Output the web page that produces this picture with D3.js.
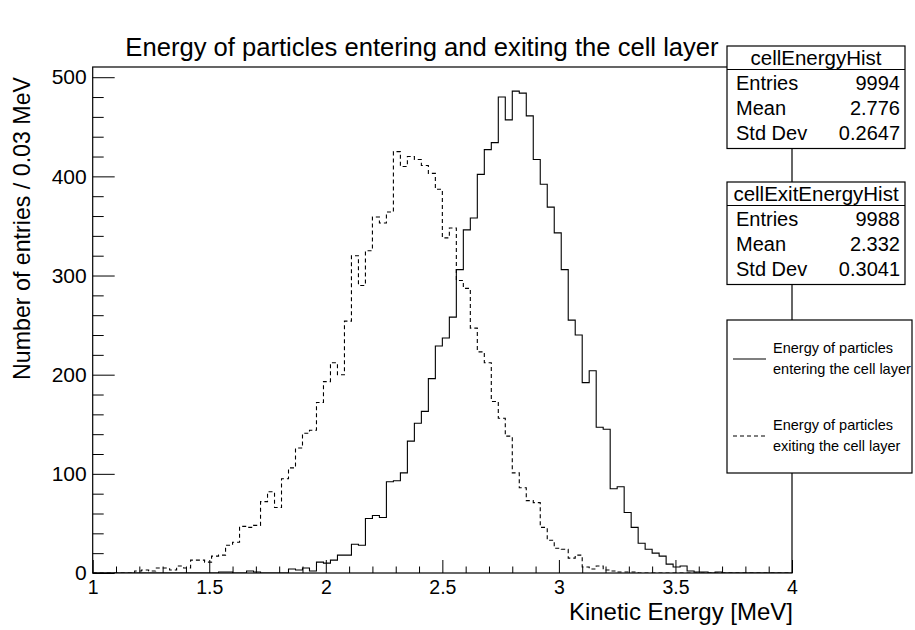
<!DOCTYPE html>
<html><head><meta charset="utf-8">
<script src="https://cdn.jsdelivr.net/npm/d3@7"></script>
<style>
body{margin:0;background:#fff}
svg{display:block}
text{font-family:"Liberation Sans",Arial,Helvetica,sans-serif;fill:#000}
</style>
</head><body>
<svg id="c" width="915" height="630"></svg>
<script>
// ---- data ----
const xMin = 1, xMax = 4, binWidth = 0.03;
const yMax = 510.3;
const enteringCounts = [
  0,0,0,0,0,0,0,0,0,0,
  0,0,0,0,0,0,0,0,1,1,
  0,0,2,1,0,0,0,0,4,3,
  5,2,11,10,13,18,18,29,28,55,
  58,56,92,93,101,133,151,163,196,229,
  237,258,306,346,358,402,427,434,480,457,
  486,484,461,417,392,369,343,306,255,240,
  192,204,147,145,85,87,61,46,30,24,
  20,17,9,6,7,2,1,1,0,1,
  0,0,0,0,0,0,0,0,0,0
];
const exitingCounts = [
  0,0,0,0,0,0,2,3,2,5,
  5,3,7,5,13,13,11,17,18,28,
  31,47,46,48,72,82,66,95,106,126,
  141,144,172,193,212,200,254,320,290,325,
  359,353,364,425,410,420,417,411,403,387,
  338,348,295,287,247,223,212,173,156,138,
  101,86,73,71,46,33,25,24,15,18,
  6,4,7,3,2,1,1,1,0,0,
  0,0,0,0,0,0,0,0,0,0,
  0,0,0,0,0,0,0,0,0,0
];
const xTickLabels = [1, 1.5, 2, 2.5, 3, 3.5, 4];
const xMinorTicks = [1.1,1.2,1.3,1.4,1.6,1.7,1.8,1.9,2.1,2.2,2.3,2.4,2.6,2.7,2.8,2.9,3.1,3.2,3.3,3.4,3.6,3.7,3.8,3.9];
const yTickLabels = [0, 100, 200, 300, 400, 500];
const yMinorTicks = [20,40,60,80,120,140,160,180,220,240,260,280,320,340,360,380,420,440,460,480];
const titleText = "Energy of particles entering and exiting the cell layer";
const xTitle = "Kinetic Energy [MeV]";
const yTitle = "Number of entries / 0.03 MeV";
const statsBoxes = [
  {name: "cellEnergyHist", entries: "9994", mean: "2.776", std: "0.2647"},
  {name: "cellExitEnergyHist", entries: "9988", mean: "2.332", std: "0.3041"}
];
const legendItems = [
  {line1: "Energy of particles", line2: "entering the cell layer", dash: null},
  {line1: "Energy of particles", line2: "exiting the cell layer", dash: "4,3"}
];

// ---- layout ----
const L = 92.7, R = 792, T = 67, B = 573;
const svg = d3.select("#c");
svg.append("rect").attr("width",915).attr("height",630).attr("fill","#fff");

const x = d3.scaleLinear().domain([xMin, xMax]).range([L, R]);
const y = d3.scaleLinear().domain([0, yMax]).range([B, T]);

svg.append("defs").append("clipPath").attr("id","clip")
  .append("rect").attr("x",L).attr("y",T).attr("width",R-L).attr("height",B-T);

// histograms
function stepPath(counts){
  let p = `M${x(xMin)},${y(0)}`;
  counts.forEach((c,i)=>{
    const x0 = x(xMin + i*binWidth), x1 = x(xMin + (i+1)*binWidth);
    p += `L${x0},${y(c)}L${x1},${y(c)}`;
  });
  p += `L${x(xMin + counts.length*binWidth)},${y(0)}`;
  return p;
}
const g = svg.append("g").attr("clip-path","url(#clip)");
g.append("path").attr("d", stepPath(exitingCounts)).attr("fill","none")
  .attr("stroke","#000").attr("stroke-width",1.1).attr("stroke-dasharray","4,3");
g.append("path").attr("d", stepPath(enteringCounts)).attr("fill","none")
  .attr("stroke","#000").attr("stroke-width",1.1);

// axes
const fmt = d => String(d);
const yAxis = d3.axisLeft(y).tickValues(yTickLabels).tickFormat(fmt).tickSize(-22).tickPadding(6);
const yAxisMinor = d3.axisLeft(y).tickValues(yMinorTicks).tickFormat("").tickSize(-11);
const xAxis = d3.axisBottom(x).tickValues(xTickLabels).tickFormat(fmt).tickSize(-13).tickPadding(7);
const xAxisMinor = d3.axisBottom(x).tickValues(xMinorTicks).tickFormat("").tickSize(-6.5);

function styleAxis(sel, fs){
  sel.select(".domain").remove();
  sel.selectAll("line").attr("stroke","#000").attr("stroke-width",1);
  sel.selectAll("text").attr("font-size",fs).attr("font-family",'"Liberation Sans",Arial,sans-serif').attr("fill","#000");
}
svg.append("g").attr("transform",`translate(${L},0)`).call(yAxis).call(s=>styleAxis(s,21));
svg.append("g").attr("transform",`translate(${L},0)`).call(yAxisMinor).call(s=>styleAxis(s,21));
svg.append("g").attr("transform",`translate(0,${B})`).call(xAxis).call(s=>styleAxis(s,19.5));
svg.append("g").attr("transform",`translate(0,${B})`).call(xAxisMinor).call(s=>styleAxis(s,19.5));

// frame
svg.append("rect").attr("x",L).attr("y",T).attr("width",R-L).attr("height",B-T)
  .attr("fill","none").attr("stroke","#000").attr("stroke-width",1.2);

// titles
svg.append("text").attr("x",422).attr("y",56).attr("text-anchor","middle")
  .attr("font-size",25.6).text(titleText);
svg.append("text").attr("x",R+1).attr("y",619.5).attr("text-anchor","end")
  .attr("font-size",24).text(xTitle);
svg.append("text").attr("transform",`translate(30,77) rotate(-90)`).attr("text-anchor","end")
  .attr("font-size",23.2).text(yTitle);

// stats boxes
const boxTops = [46, 182];
statsBoxes.forEach((s,k)=>{
  const bx = 727, bw = 178, top = boxTops[k], hh = 23.5, rh = 25;
  const gb = svg.append("g");
  gb.append("rect").attr("x",bx).attr("y",top).attr("width",bw).attr("height",hh+3*rh+4)
    .attr("fill","#fff").attr("stroke","#000").attr("stroke-width",1.2);
  gb.append("line").attr("x1",bx).attr("x2",bx+bw).attr("y1",top+hh).attr("y2",top+hh)
    .attr("stroke","#000").attr("stroke-width",1.2);
  gb.append("text").attr("x",bx+bw/2).attr("y",top+19).attr("text-anchor","middle")
    .attr("font-size",20.5).text(s.name);
  const rows = [["Entries",s.entries],["Mean",s.mean],["Std Dev",s.std]];
  rows.forEach((r,i)=>{
    const yy = top + hh + 20 + i*rh;
    gb.append("text").attr("x",bx+9).attr("y",yy).attr("font-size",20).text(r[0]);
    gb.append("text").attr("x",bx+bw-5).attr("y",yy).attr("text-anchor","end").attr("font-size",20).text(r[1]);
  });
});

// legend
const lg = svg.append("g");
lg.append("rect").attr("x",727).attr("y",320).attr("width",185).attr("height",153)
  .attr("fill","#fff").attr("stroke","#000").attr("stroke-width",1.2);
legendItems.forEach((it,i)=>{
  const cy = 359 + i*77;
  const ln = lg.append("line").attr("x1",733).attr("x2",766).attr("y1",cy).attr("y2",cy)
    .attr("stroke","#000").attr("stroke-width",1.1);
  if (it.dash) ln.attr("stroke-dasharray",it.dash);
  lg.append("text").attr("x",773).attr("y",cy-6).attr("font-size",14.5).text(it.line1);
  lg.append("text").attr("x",773).attr("y",cy+15).attr("font-size",14.5).text(it.line2);
});
</script>
</body></html>
